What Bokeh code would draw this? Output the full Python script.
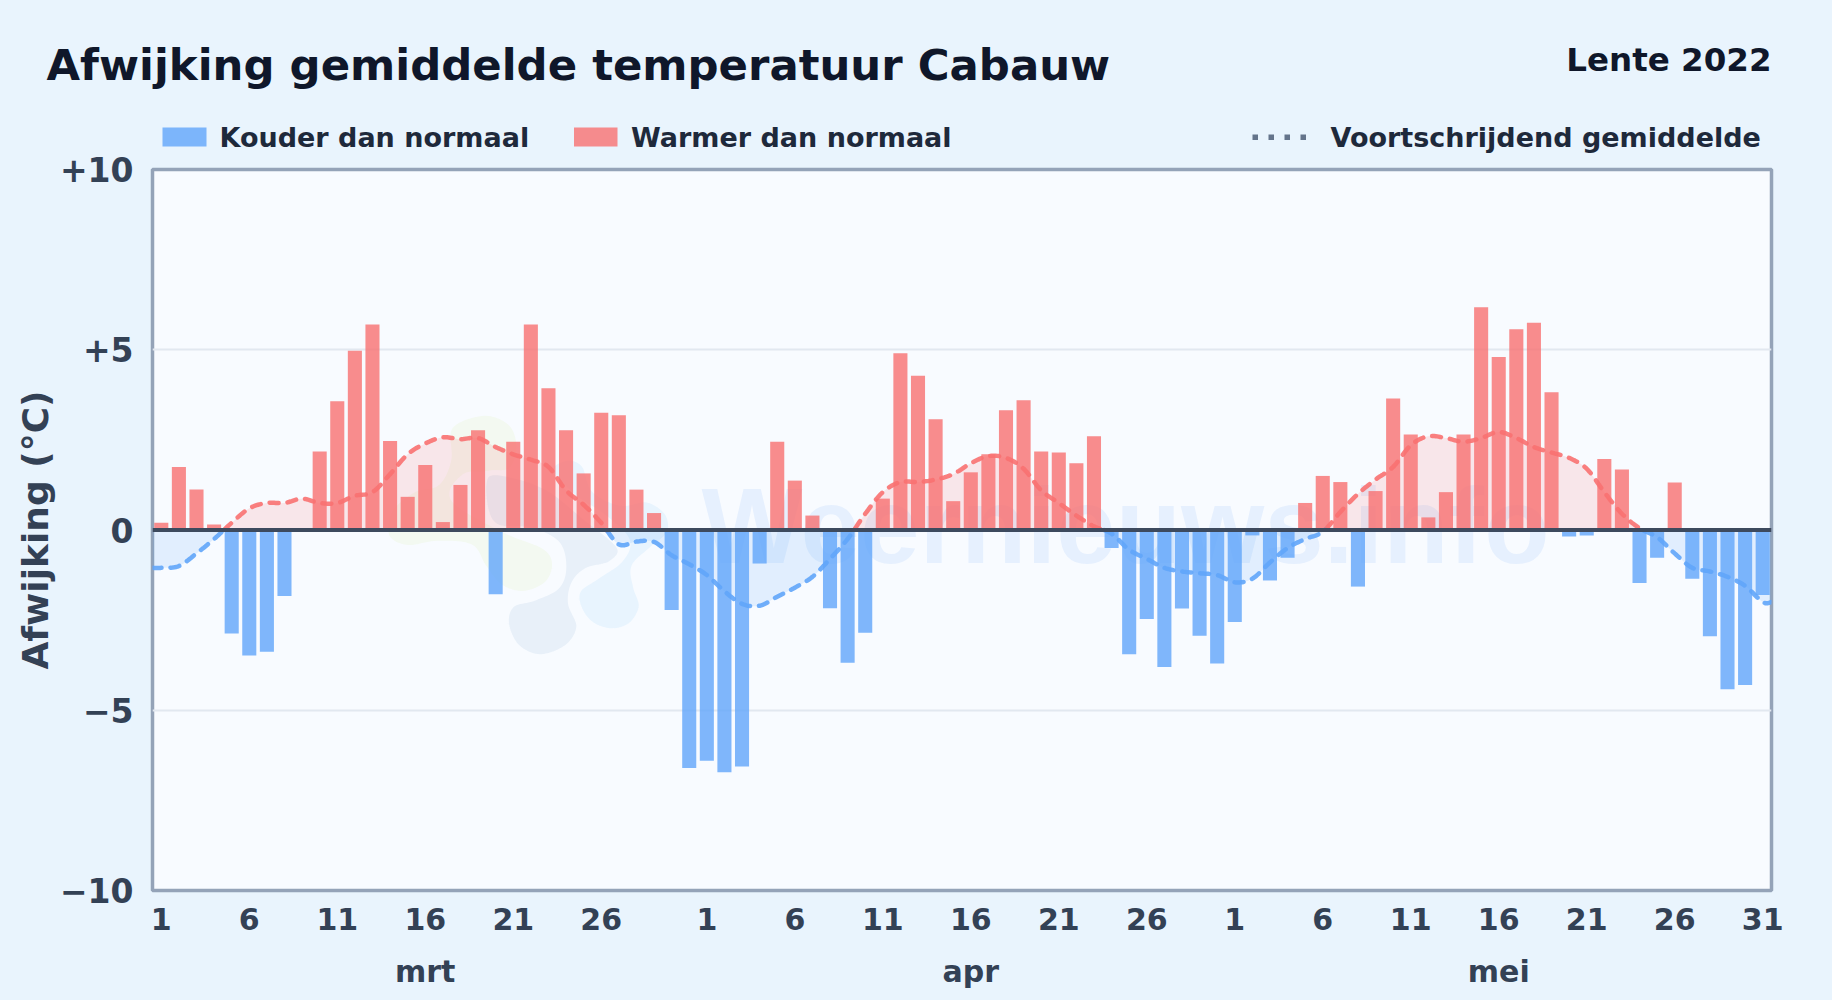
from bokeh.plotting import figure
from bokeh.embed import file_html
from bokeh.resources import INLINE
from bokeh.layouts import column
from bokeh.models import Range1d, FixedTicker, LinearAxis, Span
from bokeh.core.properties import value
import numpy as np

month_names = ["mrt", "apr", "mei"]
month_lengths = [31, 30, 31]
month_centres = [15, 46, 76]
tick_days = [1, 6, 11, 16, 21, 26]
y_ticks = [-10, -5, 0, 5, 10]
y_tick_labels = ["\u221210", "\u22125", "0", "+5", "+10"]
legend_names = ["Kouder dan normaal", "Warmer dan normaal", "Voortschrijdend gemiddelde"]

deviation = [
    0.2, 1.75, 1.12, 0.15, -2.87, -3.48, -3.38, -1.83, 0.0, 2.18, 3.57, 4.97, 5.7, 2.47, 0.92, 1.8,
    0.22, 1.25, 2.77, -1.78, 2.45, 5.7, 3.93, 2.77, 1.57, 3.25, 3.18, 1.12, 0.47, -2.22, -6.6,
    -6.4, -6.72, -6.56, -0.93, 2.45, 1.37, 0.4, -2.17, -3.68, -2.85, 0.87, 4.9, 4.28, 3.07, 0.8,
    1.6, 2.1, 3.32, 3.6, 2.18, 2.15, 1.85, 2.6, -0.5, -3.45, -2.47, -3.8, -2.18, -2.93, -3.7,
    -2.55, -0.15, -1.4, -0.77, 0.75, 1.5, 1.33, -1.57, 1.08, 3.65, 2.65, 0.35, 1.05, 2.65, 6.18,
    4.8, 5.57, 5.75, 3.82, -0.18, -0.15, 1.97, 1.68, -1.47, -0.77, 1.32, -1.35, -2.95, -4.42, -4.3, -1.8,
]
rolling = [
    -1.05, -1.0, -0.65, -0.25, 0.2, 0.6, 0.75, 0.75, 0.87, 0.75, 0.75, 0.95, 1.05, 1.55, 2.1, 2.4,
    2.57, 2.52, 2.55, 2.3, 2.1, 1.95, 1.75, 1.1, 0.7, 0.2, -0.4, -0.32, -0.33, -0.7, -0.95,
    -1.25, -1.7, -2.05, -2.1, -1.85, -1.6, -1.3, -0.8, -0.25, 0.45, 1.05, 1.33, 1.33, 1.4, 1.55,
    1.85, 2.05, 2.0, 1.7, 1.1, 0.75, 0.4, 0.1, -0.1, -0.55, -0.8, -1.05, -1.15, -1.2, -1.25,
    -1.45, -1.35, -0.9, -0.5, -0.25, -0.05, 0.5, 1.0, 1.4, 1.75, 2.35, 2.6, 2.55, 2.45, 2.55,
    2.72, 2.55, 2.3, 2.15, 2.0, 1.7, 1.05, 0.45, 0.05, -0.2, -0.65, -1.05, -1.15, -1.3, -1.55, -2.0,
]

# faint logo outlines behind the chart (picture pixels)
logo_green = [(240,110),(340,70),(420,100),(445,170),(420,240),(350,250),(280,260),(250,330),(400,420),(520,470),(552,520),(530,580),(460,610),(390,590),(340,530),(300,470),(200,460),(110,472),(50,440),(60,360),(130,300),(200,280),(235,210)]
logo_slate = [(350,255),(440,260),(540,300),(640,380),(745,470),(720,520),(650,540),(610,580),(600,640),(625,710),(590,770),(510,800),(440,770),(408,700),(425,645),(490,625),(560,590),(580,530),(560,460),(480,420),(380,410),(345,350)]
logo_sky = [(590,205),(640,225),(670,300),(750,340),(830,330),(890,370),(895,430),(840,480),(790,530),(795,590),(812,650),(780,705),(720,722),(660,700),(625,650),(625,600),(680,560),(750,510),(770,450),(700,380),(610,320),(540,240)]

PAGE = "#e9f4fd"
PANEL = "#f8fbff"
RED = "#f87171"
BLUE = "#60a5fa"
FONT = "DejaVu Sans"

W = 1832
HEAD = 156
OVERLAP = 9
H = 1000 - HEAD + OVERLAP
L, R, T, B = 152, 61, 22, 110

# ---- header strip: title, season, legend ----
h = figure(width=W, height=HEAD, output_backend="svg", toolbar_location=None,
           x_range=Range1d(0, W), y_range=Range1d(HEAD, 0),
           x_axis_location=None, y_axis_location=None,
           min_border_left=0, min_border_right=0, min_border_top=0, min_border_bottom=0,
           background_fill_color=PAGE, border_fill_color=PAGE, outline_line_color=None)
h.xgrid.visible = False
h.ygrid.visible = False


def head_text(x, y, s, size, color, align="left"):
    h.text([x], [y], text=[s], text_font=value(FONT), text_font_style="bold", text_font_size=size,
           text_color=color, text_align=align, text_baseline="middle")


head_text(46, 64, "Afwijking gemiddelde temperatuur Cabauw", "43.4px", "#0f172a")
head_text(1771, 59, "Lente 2022", "32.5px", "#0f172a", "right")
for x, s in zip((219, 630.5, 1330), legend_names):
    head_text(x, 137, s, "27px", "#1e293b")
h.quad(left=[162, 573.5], right=[206, 617], top=[127, 127], bottom=[146, 146],
       fill_color=[BLUE, RED], fill_alpha=0.8, line_color=None)
for k in range(4):
    h.quad(left=[1252 + 16 * k], right=[1257.5 + 16 * k], top=[134], bottom=[139.5],
           fill_color="#64748b", line_color=None)

# ---- chart ----
p = figure(width=W, height=H, output_backend="svg", toolbar_location=None,
           x_range=Range1d(-0.5, 91.5), y_range=Range1d(-10, 10),
           min_border_left=L, min_border_right=R, min_border_top=T, min_border_bottom=B,
           background_fill_color=PANEL, border_fill_color=None,
           outline_line_color="#94a3b8", outline_line_width=3.5,
           margin=(-OVERLAP, 0, 0, 0))

ticks, labels = [], {}
start = 0
for n in month_lengths:
    for d in tick_days + ([31] if n == 31 and start > 0 else []):
        ticks.append(start + d - 1)
        labels[start + d - 1] = str(d)
    start += n
p.xaxis.ticker = FixedTicker(ticks=ticks)
p.xaxis.major_label_overrides = labels
p.yaxis.ticker = FixedTicker(ticks=y_ticks)
p.yaxis.major_label_overrides = dict(zip(y_ticks, y_tick_labels))
month_axis = LinearAxis(ticker=FixedTicker(ticks=month_centres),
                        major_label_overrides=dict(zip(month_centres, month_names)))
p.add_layout(month_axis, "below")
for ax in (p.xaxis[0], p.yaxis[0], month_axis):
    ax.axis_line_color = None
    ax.major_tick_line_color = None
    ax.minor_tick_line_color = None
    ax.major_label_text_font = FONT
    ax.major_label_text_font_style = "bold"
    ax.major_label_text_color = "#334155"
p.xaxis[0].major_label_text_font_size = "30px"
month_axis.major_label_text_font_size = "30px"
p.yaxis.major_label_text_font_size = "33px"
p.xaxis[0].major_label_standoff = 11
month_axis.major_label_standoff = 15
p.yaxis.major_label_standoff = 13
p.yaxis.axis_label = "Afwijking (\u00b0C)"
p.yaxis.axis_label_text_font = FONT
p.yaxis.axis_label_text_font_style = "bold"
p.yaxis.axis_label_text_font_size = "36px"
p.yaxis.axis_label_text_color = "#334155"
p.yaxis.axis_label_standoff = 1

p.xgrid.visible = False
p.ygrid.ticker = FixedTicker(ticks=[-5, 5])
p.ygrid.grid_line_color = "#e2e8f0"
p.ygrid.grid_line_width = 2


def smooth(px, py, closed=False, n=12):
    px, py = np.asarray(px, float), np.asarray(py, float)
    if closed:
        ax = np.r_[px[-1], px, px[0], px[1]]
        ay = np.r_[py[-1], py, py[0], py[1]]
    else:
        ax = np.r_[px[0], px, px[-1]]
        ay = np.r_[py[0], py, py[-1]]
    t = np.linspace(0, 1, n, endpoint=False)[:, None]
    def cr(a):
        p0, p1, p2, p3 = a[:-3, None].T, a[1:-2, None].T, a[2:-1, None].T, a[3:, None].T
        v = 0.5 * (2 * p1 + (p2 - p0) * t + (2 * p0 - 5 * p1 + 4 * p2 - p3) * t ** 2
                   + (3 * p1 - p0 - 3 * p2 + p3) * t ** 3)
        return v.T.ravel()
    xs, ys = cr(ax), cr(ay)
    if not closed:
        xs, ys = np.r_[xs, px[-1]], np.r_[ys, py[-1]]
    return xs, ys


# pixel position in the picture -> data position
def to_x(px):
    return (px - L) / ((W - L - R) / 92) - 0.5
def to_y(py):
    return (530 - py) / 36.05


for outline, colour in ((logo_green, "#f3f9f1"), (logo_slate, "#e8f0f9"), (logo_sky, "#e8f4fe")):
    cx = [370 + a / 3 for a, _ in outline]
    cy = [390 + b / 3 for _, b in outline]
    sx, sy = smooth(to_x(np.array(cx)), to_y(np.array(cy)), closed=True)
    p.patch(sx, sy, fill_color=colour, line_color=PANEL, line_width=5, level="underlay")

p.text([to_x(1125)], [to_y(526)], text=["Weernieuws.info"], text_font=value("Liberation Sans"),
       text_font_style="bold", text_font_size="107px", text_color="#3b82f6", text_alpha=0.09,
       text_align="center", text_baseline="middle", level="underlay")

days = np.arange(len(deviation))
dev = np.array(deviation)
xs, ys = smooth(np.r_[-0.5, days, 91.5], np.r_[rolling[0], rolling, rolling[-1]])

p.varea(xs, np.minimum(ys, 0), 0 * ys, fill_color=BLUE, fill_alpha=0.15)
p.varea(xs, np.maximum(ys, 0), 0 * ys, fill_color=RED, fill_alpha=0.15)

cold = dev < 0
p.vbar(days[cold], top=0, bottom=dev[cold], width=0.8, fill_color=BLUE, fill_alpha=0.8, line_color=None)
p.vbar(days[~cold], top=dev[~cold], bottom=0, width=0.8, fill_color=RED, fill_alpha=0.8, line_color=None)

sign = ys >= 0
edges = np.flatnonzero(np.diff(sign)) + 1
for a, b in zip(np.r_[0, edges], np.r_[edges + 1, len(xs)]):
    p.line(xs[a:b], ys[a:b], line_color=RED if sign[a] else BLUE, line_width=4.5, line_alpha=0.9,
           line_dash="9 9", line_cap="round")

p.add_layout(Span(location=0, dimension="width", line_color="#3d4a5e", line_width=4))

page = column(column(h), column(p), spacing=0)
html = file_html(page, INLINE)
html = html.replace("</head>", "<style>html,body{background:%s}</style></head>" % PAGE, 1)
open("out.html", "w").write(html)
